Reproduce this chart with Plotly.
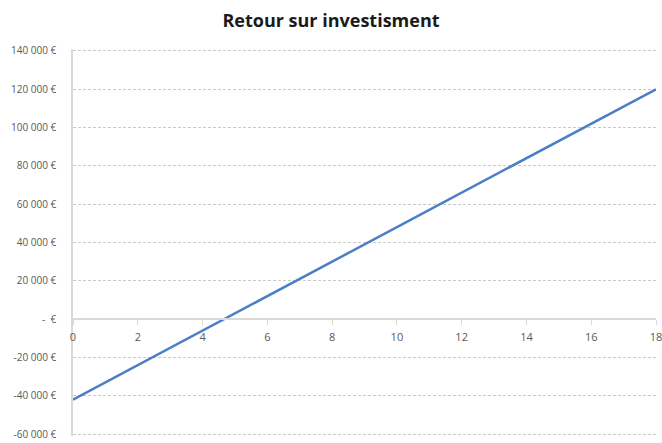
import plotly.graph_objects as go

# Cumulative return per year (EUR)
years = list(range(0, 19))
cumulative_return = [-42000, -33000, -24000, -15000, -6000, 3000, 12000, 21000,
                     30000, 39000, 48000, 57000, 66000, 75000, 84000, 93000,
                     102000, 111000, 120000]

y_tick_values = [-60000, -40000, -20000, 0, 20000, 40000, 60000, 80000,
                 100000, 120000, 140000]
y_tick_labels = ["-60 000 €", "-40 000 €", "-20 000 €", "-  €", "20 000 €",
                 "40 000 €", "60 000 €", "80 000 €", "100 000 €", "120 000 €",
                 "140 000 €"]
x_tick_values = [0, 2, 4, 6, 8, 10, 12, 14, 16, 18]

# pad the value range a little so the outer gridlines stay visible
y_min, y_max = -61000, 141000
zero_pos = (0 - y_min) / (y_max - y_min)

fig = go.Figure()
fig.add_trace(go.Scatter(
    x=years, y=cumulative_return, mode="lines",
    line=dict(color="#4A7EC7", width=2.5),
    showlegend=False, hoverinfo="x+y",
))

fig.update_layout(
    width=662, height=443,
    margin=dict(l=73, r=6, t=49, b=7, autoexpand=False),
    paper_bgcolor="white", plot_bgcolor="white",
    font=dict(family="Open Sans", color="#595959", size=10),
    title=dict(text="<b>Retour sur investisment</b>", x=0.5, xanchor="center",
               y=0.953, yanchor="middle",
               font=dict(family="Open Sans", size=18, color="#1a1a1a")),
    xaxis=dict(
        range=[0, 18], tickvals=x_tick_values,
        anchor="free", position=zero_pos, automargin=False,
        showline=True, linecolor="#d9d9d9", linewidth=1.5,
        showgrid=False, zeroline=False,
        ticks="outside", ticklen=5, tickcolor="#d9d9d9",
        ticklabelstandoff=3, ticklabeloverflow="allow",
        tickfont=dict(size=11, color="#595959"),
    ),
    yaxis=dict(
        range=[y_min, y_max], tickvals=y_tick_values, ticktext=y_tick_labels,
        automargin=False,
        showline=True, linecolor="#d9d9d9", linewidth=1.5,
        showgrid=True, gridcolor="#c8c8c8", gridwidth=1, griddash="3px,2px",
        zeroline=False, ticks="", ticklabelstandoff=13,
        ticklabeloverflow="allow",
        tickfont=dict(size=10, color="#595959"),
    ),
)

fig.write_html("out.html")
